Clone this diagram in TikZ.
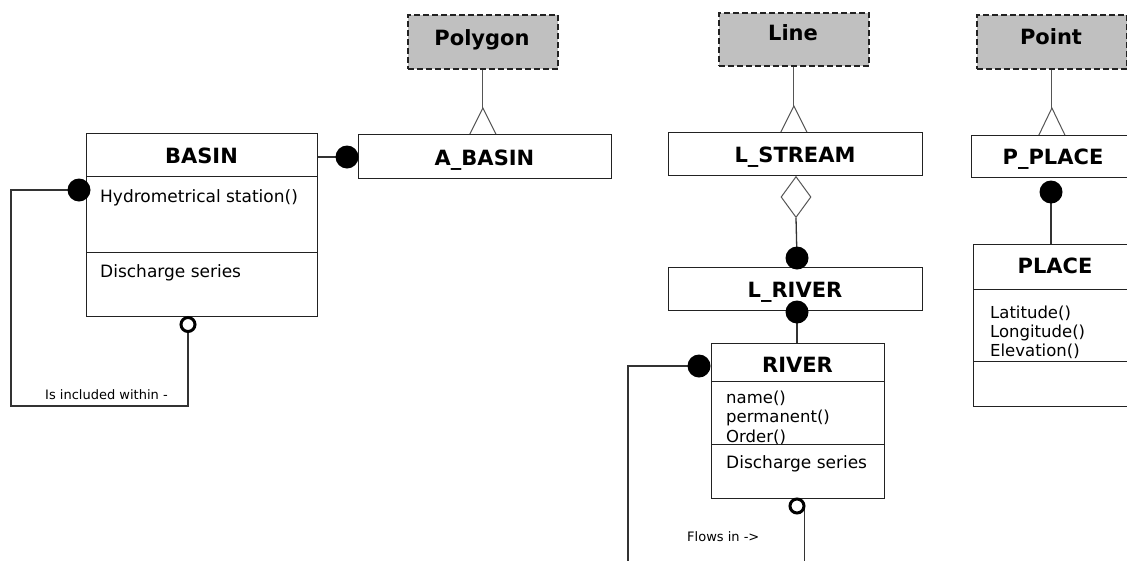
\documentclass[tikz,border=0pt]{standalone}
\usepackage{fontspec}
\setmainfont{DejaVu Sans}
\usetikzlibrary{shapes.geometric}
\pgfdeclarelayer{bg}
\pgfsetlayers{bg,main}
\definecolor{absfill}{RGB}{192,192,192}
\definecolor{edgecol}{RGB}{34,34,34}
\definecolor{conncol}{RGB}{51,51,51}
\definecolor{gencol}{RGB}{85,85,85}
\newcommand\clsTitleFont{\fontsize{21}{25}\selectfont\bfseries}
\newcommand\clsAttrFont{\fontsize{17}{20}\selectfont}
\newcommand\clsSmallFont{\fontsize{16.5}{19.5}\selectfont}
\newcommand\clsLabelFont{\fontsize{13}{16}\selectfont}
\begin{document}
\begin{tikzpicture}[x=1pt,y=-1pt,
 cls/.style={draw=edgecol, line width=1pt, fill=white, inner sep=0pt, anchor=north west},
 absbox/.style={draw=edgecol, line width=1.8pt, dash pattern=on 6pt off 3pt, fill=absfill, inner sep=0pt, anchor=north west},
 ttl/.style={font=\clsTitleFont, anchor=base, inner sep=0pt},
 attr/.style={font=\clsAttrFont, anchor=base west, inner sep=0pt},
 attrs/.style={font=\clsSmallFont, anchor=base west, inner sep=0pt},
 lbl/.style={font=\clsLabelFont, anchor=base west, inner sep=0pt},
 fdot/.style={circle, fill=black, inner sep=0pt, minimum size=23pt},
 odot/.style={circle, draw=black, line width=3pt, fill=white, inner sep=0pt, minimum size=14pt},
 agg/.style={diamond, draw=gencol, line width=1pt, fill=white, inner sep=0pt, minimum width=30pt, minimum height=41pt},
 conn/.style={draw=conncol, line width=1.3pt},
 gentri/.style={draw=gencol, line width=1pt},
 cdiv/.style={draw=edgecol, line width=1pt}
]
\useasboundingbox (0,0) rectangle (1127,560);

% abstract geometry classes
\node[absbox, minimum width=150pt, minimum height=54pt] (polygon) at (407,14) {};
\node[ttl] (polygonT) at (482,45) {Polygon};
\node[absbox, minimum width=150pt, minimum height=53pt] (linecls) at (718,12) {};
\node[ttl] (lineT) at (793,40) {Line};
\node[absbox, minimum width=150pt, minimum height=54pt] (point) at (976,14) {};
\node[ttl] (pointT) at (1051,44) {Point};

% BASIN
\node[cls, minimum width=231pt, minimum height=183pt] (basin) at (86,133) {};
\node[ttl] (basinT) at (201.5,163) {BASIN};
\draw[cdiv] (basin.west |- 0,176) -- (basin.east |- 0,176);
\draw[cdiv] (basin.west |- 0,252) -- (basin.east |- 0,252);
\node[attr] (basinA1) at (100,202) {Hydrometrical station()};
\node[attr] (basinA2) at (100,277) {Discharge series};

% A_BASIN
\node[cls, minimum width=253pt, minimum height=44pt] (abasin) at (358,134) {};
\node[ttl] (abasinT) at (484.5,165) {A\_BASIN};

% L_STREAM
\node[cls, minimum width=254pt, minimum height=43pt] (lstream) at (668,132) {};
\node[ttl] (lstreamT) at (795,162) {L\_STREAM};

% L_RIVER
\node[cls, minimum width=254pt, minimum height=43pt] (lriver) at (668,267) {};
\node[ttl] (lriverT) at (795,297) {L\_RIVER};

% RIVER
\node[cls, minimum width=173pt, minimum height=155pt] (river) at (711,343) {};
\node[ttl] (riverT) at (797.5,372) {RIVER};
\draw[cdiv] (river.west |- 0,381) -- (river.east |- 0,381);
\draw[cdiv] (river.west |- 0,444) -- (river.east |- 0,444);
\node[attrs] (riverA1) at (726,403) {name()};
\node[attrs] (riverA2) at (726,422.5) {permanent()};
\node[attrs] (riverA3) at (726,442) {Order()};
\node[attr] (riverA4) at (726,468) {Discharge series};

% P_PLACE
\node[cls, minimum width=175pt, minimum height=42pt] (pplace) at (971,135) {};
\node[ttl] (pplaceT) at (1053,164) {P\_PLACE};

% PLACE
\node[cls, minimum width=175pt, minimum height=162pt] (place) at (973,244) {};
\node[ttl] (placeT) at (1055,273) {PLACE};
\draw[cdiv] (place.west |- 0,289) -- (place.east |- 0,289);
\draw[cdiv] (place.west |- 0,361) -- (place.east |- 0,361);
\node[attrs] (placeA1) at (990,318) {Latitude()};
\node[attrs] (placeA2) at (990,337) {Longitude()};
\node[attrs] (placeA3) at (990,356) {Elevation()};

% association ends
\node[fdot] (basinDot) at (79,190) {};
\node[fdot] (abDot) at (347,157) {};
\node[fdot] (lrDot1) at (797,258) {};
\node[fdot] (lrDot2) at (797,312) {};
\node[fdot] (riverDot) at (699,366) {};
\node[fdot] (ppDot) at (1051,192) {};
\node[odot] (basinO) at (188,324.5) {};
\node[odot] (riverO) at (797,506) {};
\node[agg] (lsDia) at (796,197) {};

% generalization triangles
\path ([yshift=26pt]abasin.north -| polygon.south) coordinate (abTip);
\path ([yshift=26pt]lstream.north -| linecls.south) coordinate (lsTip);
\path ([yshift=27pt]pplace.north -| point.south) coordinate (ppTip);
\draw[gentri] ([xshift=-13pt]abTip |- abasin.north) -- (abTip) -- ([xshift=13pt]abTip |- abasin.north);
\draw[gentri] ([xshift=-13pt]lsTip |- lstream.north) -- (lsTip) -- ([xshift=13pt]lsTip |- lstream.north);
\draw[gentri] ([xshift=-13pt]ppTip |- pplace.north) -- (ppTip) -- ([xshift=13pt]ppTip |- pplace.north);

% labels
\node[lbl] (inclLbl) at (45,399) {Is included within -};
\node[lbl] (flowLbl) at (687,541) {Flows in ->};

\coordinate (inclCorner) at (11,406);
\coordinate (flowEnd) at (628,566);

\begin{pgfonlayer}{bg}
\fill[white] (0,0) rectangle (1127,560);
\draw[gentri] (polygon.south) -- (abTip);
\draw[gentri] (linecls.south) -- (lsTip);
\draw[gentri] (point.south) -- (ppTip);
\draw[conn] (abDot.center) -- (abDot.center -| basin.east);
\draw[conn] (basinDot.center) -| (inclCorner) -| (basinO.center);
\draw[conn] (lsDia.south) -- (lrDot1.center);
\draw[conn] (lrDot2.center) -- (lrDot2.center |- river.north);
\draw[conn] (riverDot.center) -| (flowEnd);
\draw[conn] ([xshift=-1pt]riverO.east) -- ([xshift=-1pt]riverO.east |- flowEnd);
\draw[conn] (ppDot.center) -- (ppDot.center |- place.north);
\end{pgfonlayer}
\end{tikzpicture}
\end{document}
